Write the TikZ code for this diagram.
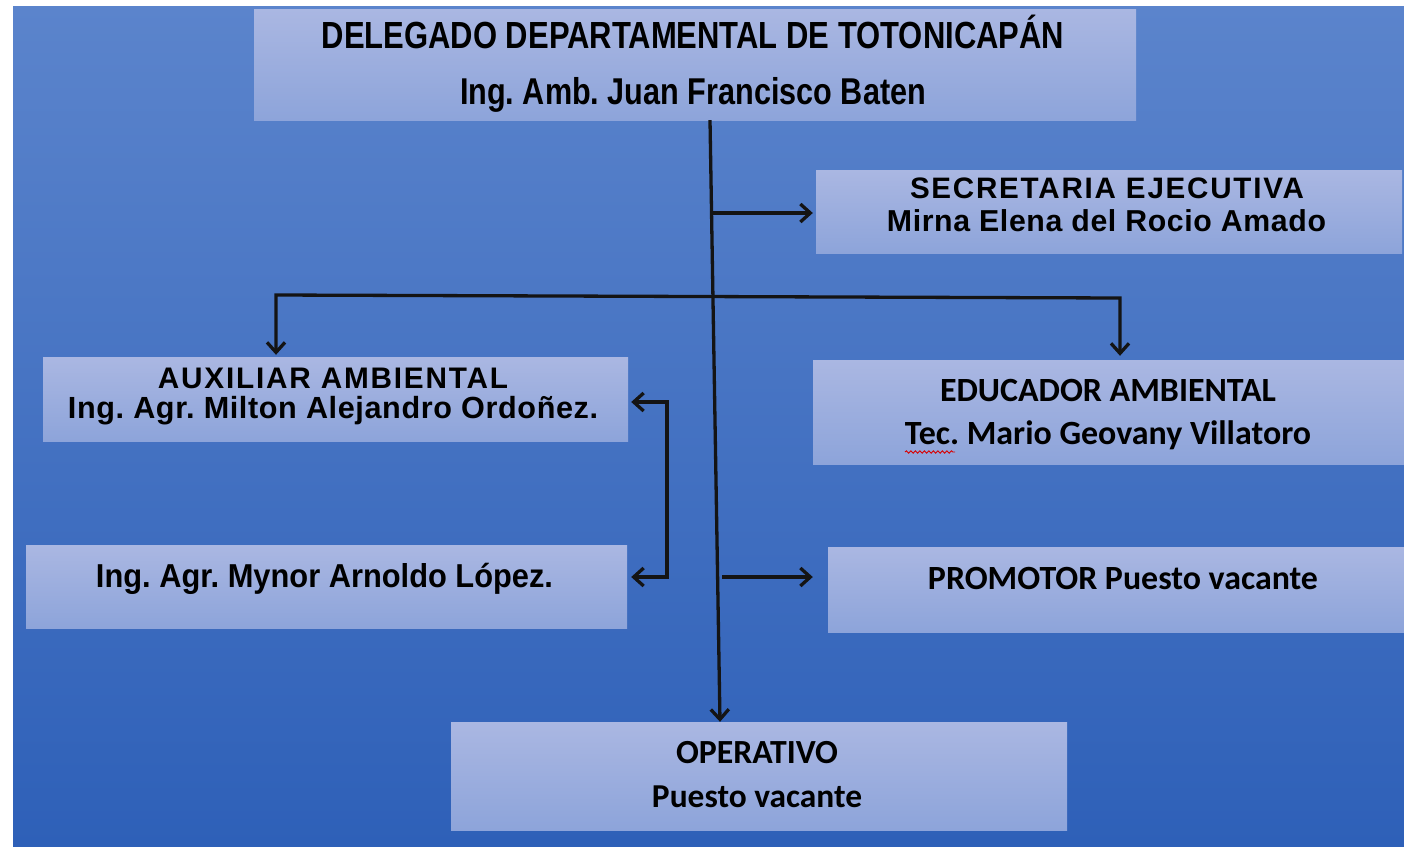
\documentclass[tikz,border=0pt]{standalone}
\usepackage{fontspec}
\usepackage{graphicx}
\usetikzlibrary{arrows.meta,decorations.pathmorphing}
\setmainfont{Liberation Sans}
\newfontfamily\narrowf{Liberation Sans}[FakeStretch=0.82]
\newfontfamily\semif{Liberation Sans}[FakeStretch=0.93]
\newfontfamily\spacedf{Liberation Sans}[LetterSpace=6]
\newfontfamily\lspacedf{Liberation Sans}[LetterSpace=2]
\newfontfamily\calf{Carlito}
\definecolor{bgtop}{HTML}{5B84CC}
\definecolor{bgbot}{HTML}{2E60B8}
\definecolor{boxtop}{HTML}{AAB7E2}
\definecolor{boxbot}{HTML}{8DA4DA}
\newcommand{\fw}[2]{\resizebox{#1pt}{!}{#2}}
\frenchspacing
\begin{document}
\begin{tikzpicture}[x=1pt,y=-1pt,
  box/.style={rectangle, inner sep=0pt, top color=boxtop, bottom color=boxbot, draw=none},
  txt/.style={inner sep=0pt, anchor=base, text=black},
  conn/.style={line width=3.3pt, draw=black!92, line join=miter},
  barb/.tip={Straight Barb[length=10pt,width=18pt]},
  arr/.style={conn, -barb}]
\useasboundingbox (0,0) rectangle (1404,846);
\fill[white] (0,0) rectangle (1404,846);
\shade[top color=bgtop,bottom color=bgbot] (13,6) rectangle (1404,846);

% boxes
\node[box, minimum width=882pt, minimum height=111pt] (del) at (695,64.5) {};
\node[box, minimum width=586pt, minimum height=83pt] (sec) at (1109,211.5) {};
\node[box, minimum width=585pt, minimum height=84pt] (aux) at (335.5,399) {};
\node[box, minimum width=591pt, minimum height=104pt] (edu) at (1108.5,412) {};
\node[box, minimum width=601pt, minimum height=83pt] (myn) at (326.5,586.5) {};
\node[box, minimum width=576pt, minimum height=85pt] (pro) at (1116,589.5) {};
\node[box, minimum width=616pt, minimum height=108pt] (ope) at (759,776) {};

% texts
\node[txt] (del1) at (693,48) {\fw{742}{\narrowf\bfseries DELEGADO DEPARTAMENTAL DE TOTONICAPÁN}};
\node[txt] (del2) at (693,104) {\fw{466}{\narrowf\bfseries Ing. Amb. Juan Francisco Baten}};
\node[txt] (sec1) at (1107,198) {\fw{394}{\spacedf\bfseries SECRETARIA EJECUTIVA}};
\node[txt] (sec2) at (1106.5,231) {\fw{439}{\lspacedf\bfseries Mirna Elena del Rocio Amado}};
\node[txt] (aux1) at (333,388) {\fw{350}{\spacedf\bfseries AUXILIAR AMBIENTAL}};
\node[txt] (aux2) at (333,418) {\fw{530}{\lspacedf\bfseries Ing. Agr. Milton Alejandro Ordoñez.}};
\node[txt] (edu1) at (1108,401) {\fw{336}{\calf\bfseries EDUCADOR AMBIENTAL}};
\node[txt] (edu2) at (1108,444) {\fw{406}{\calf\bfseries Tec. Mario Geovany Villatoro}};
\node[txt] (myn1) at (324.5,587) {\fw{457}{\semif\bfseries Ing. Agr. Mynor Arnoldo López.}};
\node[txt] (pro1) at (1123,589) {\fw{390}{\calf\bfseries PROMOTOR Puesto vacante}};
\node[txt] (ope1) at (757,763) {\fw{162}{\calf\bfseries OPERATIVO}};
\node[txt] (ope2) at (757,807) {\fw{210}{\calf\bfseries Puesto vacante}};

% spell-check underline
\draw[red!85!black, line width=0.9pt, decorate, decoration={snake, amplitude=1.2pt, segment length=4.5pt}]
  (905,452) -- (955,452);

% connectors
\coordinate (jsec) at (712,213);
\coordinate (hl) at (276,295);
\coordinate (hr) at (1120,298);
\coordinate (bt) at (667,402);
\coordinate (bb) at (667,577);
\coordinate (jpro) at (722,577);

\draw[arr] ([xshift=15pt]del.south) -- ([xshift=-39pt]ope.north);
\draw[arr, shorten >=3pt] (jsec) -- (jsec -| sec.west);
\draw[conn, barb-barb, shorten <=2pt, shorten >=4pt] (hl |- aux.north) -- (hl) -- (hr) -- (hr |- edu.north);
\draw[conn, barb-barb, shorten <=3pt, shorten >=4pt] (bt -| aux.east) -- (bt) -- (bb) -- (bb -| myn.east);
\draw[arr, shorten >=15pt] (jpro) -- (jpro -| pro.west);
\end{tikzpicture}
\end{document}
